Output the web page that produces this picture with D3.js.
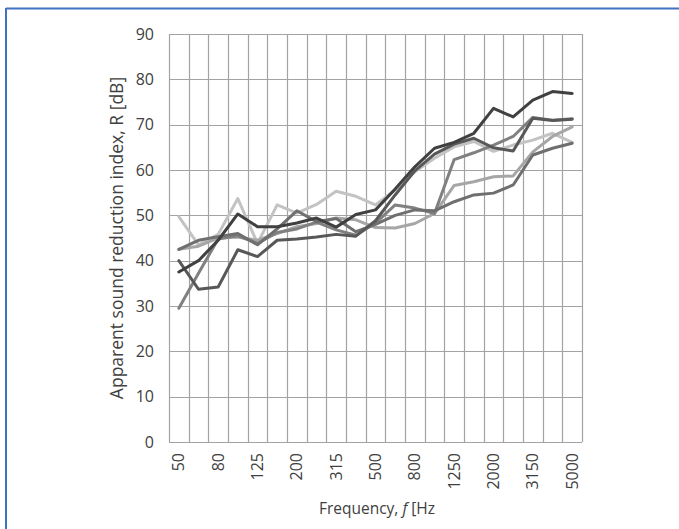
<!DOCTYPE html>
<html><head><meta charset="utf-8">
<script src="https://cdn.jsdelivr.net/npm/d3@7"></script>
<style>
html,body{margin:0;padding:0;background:#fff;}
svg{display:block;}
text{font-family:"Open Sans",Lato,sans-serif;}
</style></head>
<body>
<svg id="chart" width="679" height="529"></svg>
<script>
const frequencies = ["50","63","80","100","125","160","200","250","315","400","500","630","800","1000","1250","1600","2000","2500","3150","4000","5000"];
const tickLabels = ["50","80","125","200","315","500","800","1250","2000","3150","5000"];
const yTicks = [0,10,20,30,40,50,60,70,80,90];
const seriesA = [37.5,40.0,44.5,50.3,47.5,47.5,48.3,49.4,47.4,50.2,51.2,55.8,60.7,64.8,66.1,68.1,73.6,71.7,75.4,77.3,76.9];
const seriesB = [40.0,33.7,34.2,42.4,40.9,44.5,44.8,45.2,45.8,45.4,48.8,54.5,59.8,63.5,65.7,67.0,64.9,64.2,71.4,70.9,71.2];
const seriesC = [29.5,37.2,44.8,45.5,43.8,46.2,47.0,48.5,46.8,45.6,48.3,52.3,51.6,50.4,62.3,63.8,65.5,67.4,71.6,71.0,71.3];
const seriesD = [42.5,43.2,45.0,45.2,44.5,46.0,47.5,48.2,49.4,49.0,47.3,47.2,48.2,50.4,56.6,57.4,58.5,58.7,64.0,67.4,69.5];
const seriesE = [49.7,43.5,45.8,53.7,43.8,52.3,50.5,52.4,55.3,54.2,52.3,55.6,59.6,62.6,65.1,66.3,64.1,65.5,66.6,68.1,66.1];
const seriesF = [42.5,44.5,45.3,46.0,43.5,47.0,51.0,48.6,49.3,46.4,48.0,50.0,51.2,51.0,53.0,54.5,54.9,56.7,63.3,64.8,65.9];
const seriesList = [
  {values: seriesE, color: "#c3c3c3"},
  {values: seriesD, color: "#a6a6a6"},
  {values: seriesC, color: "#808080"},
  {values: seriesF, color: "#6f6f6f"},
  {values: seriesB, color: "#585858"},
  {values: seriesA, color: "#404040"}
];

const svg = d3.select("#chart");
svg.append("line").attr("x1",6).attr("x2",679).attr("y1",8.5).attr("y2",8.5).attr("stroke","#3f72c0").attr("stroke-width",2);
svg.append("line").attr("x1",6).attr("x2",6).attr("y1",8).attr("y2",529).attr("stroke","#3f72c0").attr("stroke-width",2);

const L = 169, R = 582, T = 34, B = 442;
const x = d3.scaleBand().domain(frequencies).range([L, R]).padding(0);
const y = d3.scaleLinear().domain([0, 90]).range([B, T]);

const g = svg.append("g");
g.selectAll("line.hg").data(yTicks).enter().append("line")
  .attr("x1", L).attr("x2", R).attr("y1", d => Math.round(y(d))+0.5).attr("y2", d => Math.round(y(d))+0.5)
  .attr("stroke", "#a3a3a3").attr("stroke-width", 1.2);
const edges = frequencies.map(f => x(f)).concat([R]);
g.selectAll("line.vg").data(edges).enter().append("line")
  .attr("x1", d => Math.round(d)+0.5).attr("x2", d => Math.round(d)+0.5).attr("y1", T).attr("y2", B)
  .attr("stroke", "#a3a3a3").attr("stroke-width", 1.2);

const yAxis = d3.axisLeft(y).tickValues(yTicks).tickSize(0).tickPadding(15);
const ya = svg.append("g").attr("transform", `translate(${L},0)`).call(yAxis);
ya.select(".domain").remove();
ya.selectAll("text").attr("font-size", 16).attr("fill", "#404040").attr("font-family", "'Open Sans', sans-serif");

const xAxis = d3.axisBottom(x).tickValues(tickLabels).tickSize(0).tickPadding(0);
const xa = svg.append("g").attr("transform", `translate(0,${B})`).call(xAxis);
xa.select(".domain").remove();
xa.selectAll("text").attr("font-size", 16).attr("fill", "#404040").attr("font-family", "'Open Sans', sans-serif")
  .attr("transform", "rotate(-90)").attr("text-anchor", "end").attr("dy", "0.35em").attr("x", -11).attr("y", 0);

const line = d3.line().x((d, i) => x(frequencies[i]) + x.bandwidth()/2).y(d => y(d));
svg.append("g").selectAll("path").data(seriesList).enter().append("path")
  .attr("d", d => line(d.values)).attr("fill", "none").attr("stroke", d => d.color)
  .attr("stroke-width", 3).attr("stroke-linejoin", "round").attr("stroke-linecap", "round");

svg.append("text").attr("transform", `translate(123,${(T+B)/2}) rotate(-90)`).attr("text-anchor", "middle")
  .attr("font-size", 17.5).attr("fill", "#404040").text("Apparent sound reduction index, R [dB]");
const xt = svg.append("text").attr("x", 377).attr("y", 514).attr("text-anchor", "middle")
  .attr("font-size", 15.5).attr("fill", "#404040");
xt.append("tspan").text("Frequency, ");
xt.append("tspan").attr("font-style", "italic").text("f");
xt.append("tspan").text(" [Hz");
</script>
</body></html>
